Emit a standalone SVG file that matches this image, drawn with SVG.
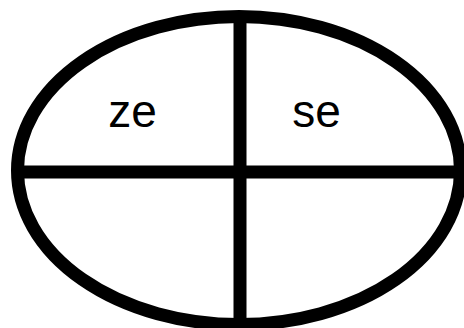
<svg xmlns="http://www.w3.org/2000/svg" width="464" height="328" viewBox="0 0 464 328">
<style>
.ln{fill:none;stroke:#000;stroke-width:13}
.t{font-family:"Liberation Sans",Arial,sans-serif;font-size:46px;fill:#000;text-anchor:middle}
</style>
<rect width="464" height="328" fill="#fff"/>
<g id="oval"><ellipse class="ln" cx="239" cy="170.5" rx="221.5" ry="154"/></g>
<g id="connectors">
<line class="ln" x1="240" y1="16" x2="240" y2="328"/>
<line class="ln" x1="18" y1="172" x2="461" y2="172"/>
</g>
<g id="ze"><text class="t" x="132.5" y="127">ze</text></g>
<g id="se"><text class="t" x="316.5" y="127">se</text></g>
</svg>
